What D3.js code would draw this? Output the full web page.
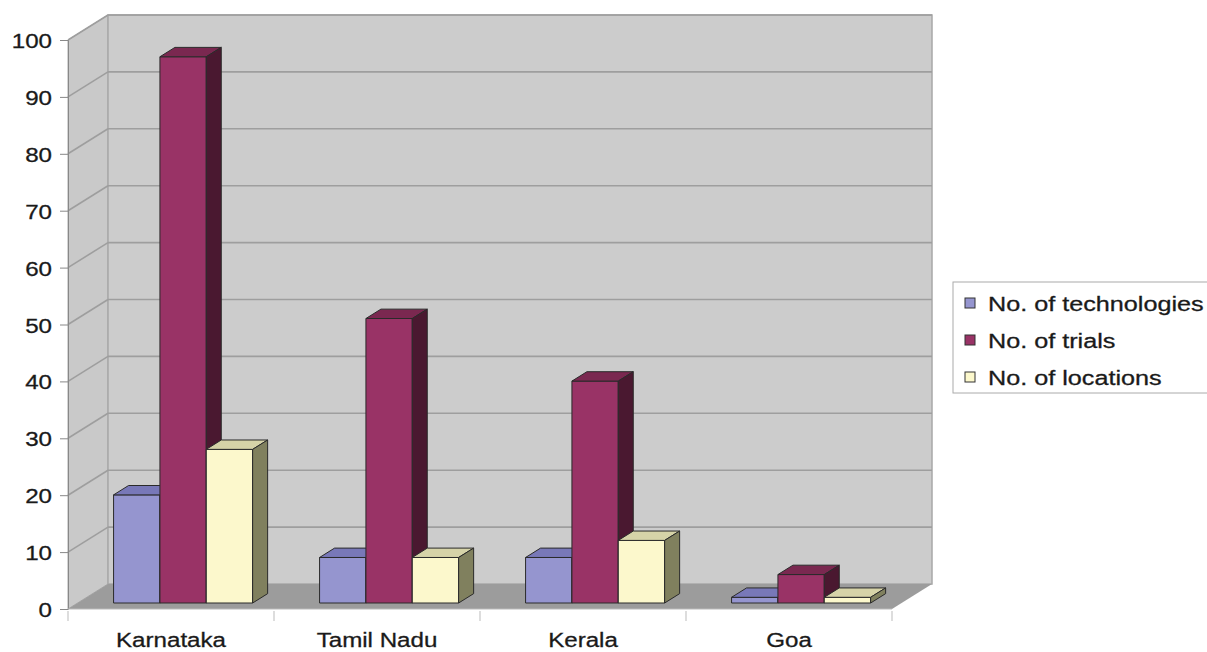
<!DOCTYPE html>
<html><head><meta charset="utf-8">
<script src="https://cdn.jsdelivr.net/npm/d3@7"></script>
<style>body{margin:0;background:#fff}svg{display:block}text{font-family:"Liberation Sans",Arial,sans-serif;fill:#1a1a1a;stroke:#1a1a1a;stroke-width:0.3px}</style>
</head><body><svg id="c" width="1207" height="652"></svg>
<script>
const categories = ["Karnataka","Tamil Nadu","Kerala","Goa"];
const seriesNames = ["No. of technologies","No. of trials","No. of locations"];
const technologies = [19, 8, 8, 1];
const trials = [96, 50, 39, 5];
const locations = [27, 8, 11, 1];
const yTicks = [0,10,20,30,40,50,60,70,80,90,100];
const seriesValues = [technologies, trials, locations];
const colors = [
  {front:"#9595cf", top:"#7878b8", side:"#4c4c80"},
  {front:"#993366", top:"#7a2850", side:"#4a1830"},
  {front:"#fcf8cc", top:"#d6d3a8", side:"#80805e"}
];

const svg = d3.select("#c");
const X0 = 68, X1 = 892, DX = 40, DY = -25;
const y = d3.scaleLinear().domain([0,100]).range([609,40]);
const x = d3.scaleBand().domain(categories).range([X0,X1]).paddingInner(0.325).paddingOuter(0.1625);
const xs = d3.scaleBand().domain(seriesNames).range([0, x.bandwidth()]);
const SX = 1.15;

// walls
svg.append("polygon").attr("points",[[X0,y(100)],[X0+DX,y(100)+DY],[X0+DX,y(0)+DY],[X0,y(0)]].join(" "))
  .attr("fill","#c9c9c9").attr("stroke","#a8a8a8");
svg.append("rect").attr("x",X0+DX).attr("y",y(100)+DY).attr("width",X1-X0).attr("height",y(0)-y(100))
  .attr("fill","#cccccc").attr("stroke","#a8a8a8").attr("stroke-width",1.5);
// gridlines
const gv = yTicks.filter(v=>v>0);
svg.selectAll(".gb").data(gv).join("line").attr("x1",X0+DX).attr("x2",X1+DX)
  .attr("y1",d=>y(d)+DY).attr("y2",d=>y(d)+DY).attr("stroke","#9e9e9e").attr("stroke-width",1.6);
svg.selectAll(".gs").data(gv).join("line").attr("x1",X0).attr("x2",X0+DX)
  .attr("y1",d=>y(d)).attr("y2",d=>y(d)+DY).attr("stroke","#9e9e9e").attr("stroke-width",1.6);
// floor
svg.append("polygon").attr("points",[[X0,y(0)],[X1,y(0)],[X1+DX,y(0)+DY],[X0+DX,y(0)+DY]].join(" "))
  .attr("fill","#9c9c9c");

// bars
const f = 0.24, bd = 0.375;
const ox = DX*f + 2.5, oy = DY*f, bdx = DX*bd, bdy = DY*bd;
const bars = [];
categories.forEach((c,ci)=>seriesNames.forEach((s,si)=>bars.push({c,s,si,v:seriesValues[si][ci]})));
const g = svg.append("g");
bars.forEach(b=>{
  const xl = x(b.c)+xs(b.s)+ox, xr = xl + xs.bandwidth();
  const yt = y(b.v)+oy, yb = y(0)+oy;
  const col = colors[b.si];
  const gg = g.append("g").attr("stroke","#2a2a2a").attr("stroke-width",1).attr("stroke-linejoin","round");
  gg.append("polygon").attr("points",[[xl,yt],[xr,yt],[xr,yb],[xl,yb]].join(" ")).attr("fill",col.front);
  gg.append("polygon").attr("points",[[xl,yt],[xl+bdx,yt+bdy],[xr+bdx,yt+bdy],[xr,yt]].join(" ")).attr("fill",col.top);
  gg.append("polygon").attr("points",[[xr,yt],[xr+bdx,yt+bdy],[xr+bdx,yb+bdy],[xr,yb]].join(" ")).attr("fill",col.side);
});

// y axis
const ya = svg.append("g").attr("transform",`translate(${X0},0)`)
  .call(d3.axisLeft(y).tickValues(yTicks).tickSize(8).tickPadding(8));
ya.select(".domain").attr("stroke","#888");
ya.selectAll(".tick line").attr("stroke","#888");
ya.selectAll(".tick text").attr("font-size",21).attr("fill","#1a1a1a")
  .attr("x",-16/SX).attr("transform",`scale(${SX},1)`).attr("dy","0.36em");

// x axis
const xa = svg.append("g").attr("transform",`translate(0,${y(0)})`);
xa.append("line").attr("x1",X0).attr("x2",X1).attr("stroke","#bbb");
const bounds = categories.map(c=>x(c)-x.step()*x.paddingOuter()).concat([X1]);
xa.selectAll(".xt").data(bounds).join("line").attr("x1",d=>d).attr("x2",d=>d).attr("y1",2).attr("y2",12).attr("stroke","#bbb");
xa.selectAll(".xl").data(categories).join("text")
  .attr("transform",d=>`translate(${x(d)+x.bandwidth()/2},38) scale(${SX},1)`)
  .attr("text-anchor","middle").attr("font-size",21).text(d=>d);

// legend
const lg = svg.append("g");
lg.append("rect").attr("x",953).attr("y",282).attr("width",270).attr("height",111).attr("fill","#fff").attr("stroke","#aaa");
seriesNames.forEach((s,i)=>{
  const cy = 303 + i*37;
  lg.append("rect").attr("x",965).attr("y",cy-5).attr("width",10).attr("height",10)
    .attr("fill",colors[i].front).attr("stroke","#333");
  lg.append("text").attr("transform",`translate(988,${cy}) scale(1.2,1)`).attr("dy","0.36em")
    .attr("font-size",21).text(s);
});
</script></body></html>
